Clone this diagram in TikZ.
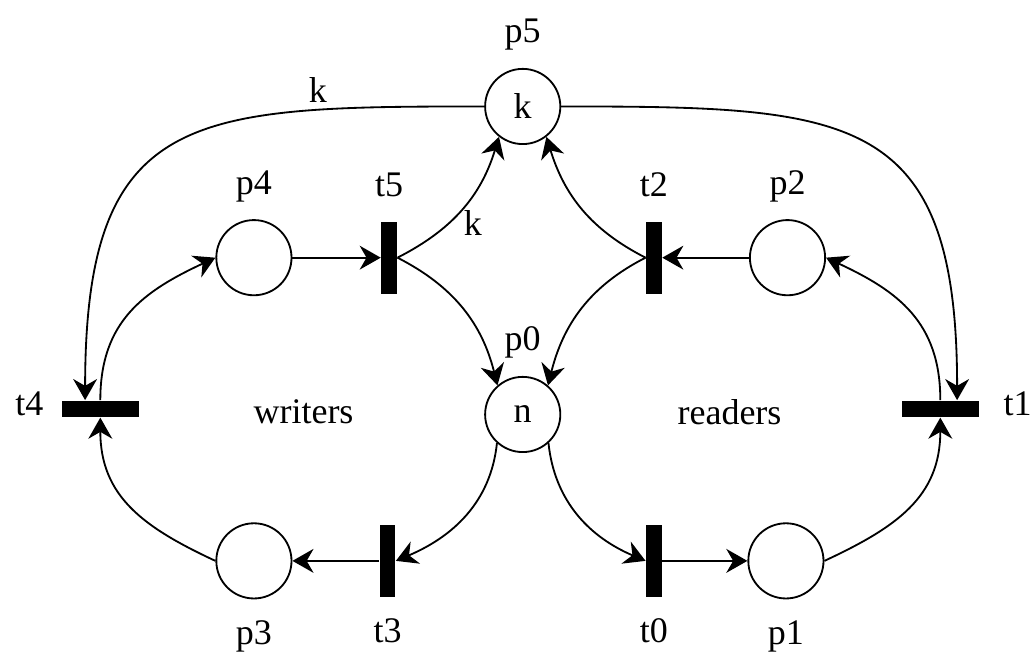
\documentclass[tikz,border=0pt]{standalone}
\usepackage{fontspec}
\setmainfont{Liberation Serif}
\usetikzlibrary{arrows.meta}
\tikzset{
place/.style={circle,draw,line width=.65pt,minimum size=.94cm,inner sep=0},
vtrans/.style={fill,minimum width=.195cm,minimum height=.9cm,inner sep=0},
htrans/.style={fill,minimum width=.96cm,minimum height=.205cm,inner sep=0},
arc/.style={-{Stealth[length=7.5pt,width=8.5pt]},line width=.65pt},
every label/.style={text height=.7em,text depth=.25em}
}
\begin{document}
\begin{tikzpicture}[font=\fontsize{12.8}{15}\selectfont,label distance=.1cm]
\useasboundingbox(-6.534,-3.031)rectangle(6.366,5.181);
\node[place,label=above:p0](p0)at(0,0){n};
\node[place,label=above:p5](p5)at(0,3.85){k};
\node[place,label=above:p4](p4)at(-3.36,1.96){};
\node[place,label=above:p2](p2)at(3.31,1.96){};
\node[place,label={[label distance=.19cm]below:p3}](p3)at(-3.36,-1.83){};
\node[place,label={[label distance=.19cm]below:p1}](p1)at(3.29,-1.83){};
\node[vtrans,label=above:t5](t5)at(-1.67,1.96){};
\node[vtrans,label=above:t2](t2)at(1.64,1.96){};
\node[vtrans,label={[label distance=.19cm]below:t3}](t3)at(-1.69,-1.83){};
\node[vtrans,label={[label distance=.19cm]below:t0}](t0)at(1.64,-1.83){};
\node[htrans,label=left:t4](t4)at(-5.28,.07){};
\node[htrans,label={[label distance=.18cm]right:t1}](t1)at(5.22,.07){};
\node(writers)at(-2.74,.03){writers};
\node(readers)at(2.585,.03){readers};
\draw[arc](p4)--(t5);
\draw[arc](p2)--(t2);
\draw[arc](t3)--(p3);
\draw[arc](t0)--(p1);
\draw[arc](t5.east)to[out=27,in=-107]node[pos=.5,below right=-3pt]{k}(p5.-128);
\draw[arc](t5.east)to[out=-27,in=104](p0.131);
\draw[arc](t2.west)to[out=153,in=-73](p5.-52);
\draw[arc](t2.west)to[out=-153,in=76](p0.49);
\draw[arc](p0.-132)to[out=-96,in=23](t3.east);
\draw[arc](p0.-48)to[out=-84,in=157](t0.west);
\draw[arc](p5.west)to[out=180,in=90,looseness=1.5]node[pos=.22,above=-1pt]{k}([xshift=-.19cm]t4.north);
\draw[arc](p5.east)to[out=0,in=90,looseness=1.5]([xshift=.21cm]t1.north);
\draw[arc](t4.north)to[out=90,in=-155,looseness=1.1](p4.west);
\draw[arc](p3.west)to[out=155,in=-90,looseness=1.1](t4.south);
\draw[arc](t1.north)to[out=90,in=-25,looseness=1.1](p2.east);
\draw[arc](p1.east)to[out=25,in=-90,looseness=1.1](t1.south);
\end{tikzpicture}
\end{document}
